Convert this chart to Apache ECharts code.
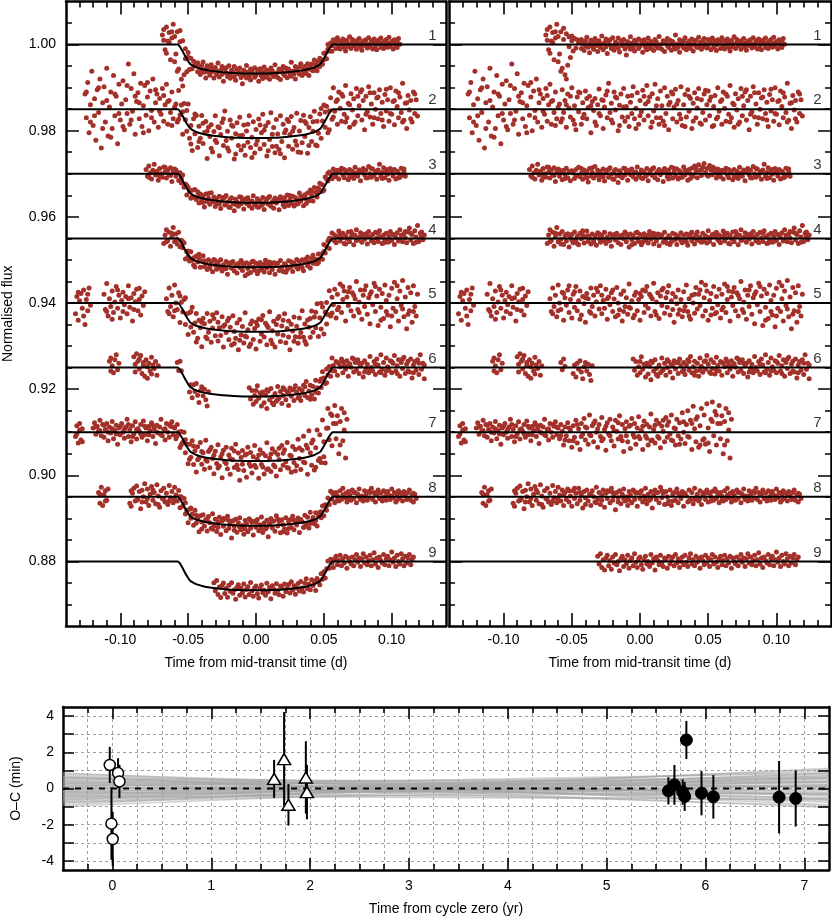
<!DOCTYPE html>
<html><head><meta charset="utf-8">
<script src="https://cdn.jsdelivr.net/npm/echarts@6/dist/echarts.min.js"></script>
<style>html,body{margin:0;padding:0;background:#fff}#c{width:832px;height:919px}</style>
</head><body><div id="c"></div>
<script>
// ---------------- DATA ----------------
const curveLabels = ['1','2','3','4','5','6','7','8','9'];
const baselines = [1.000,0.985,0.970,0.955,0.940,0.925,0.910,0.895,0.880];
// transit model shape: time (d) and depth (units of 1e-4 flux)
const modelT = [-0.14,-0.0575,-0.0565,-0.0545,-0.0525,-0.0505,-0.0485,-0.046,-0.043,-0.039,-0.034,-0.028,-0.021,-0.013,-0.005,0.004,0.012,0.020,0.027,0.033,0.038,0.042,0.045,0.0475,0.0495,0.0515,0.0535,0.0555,0.0565,0.14];
const modelDepth = [0,0,3,13,25,36,45,50,54,57.5,60.5,63,65,66.5,67,67,66.5,65,63,60.5,57.5,54,50,45,35,24,12,3,0,0];
// light-curve residuals, "time(1e-3 d):residual(1e-4 flux)"
const lc1 = "-69:22 -68:35 -67:-12 -66:41 -65:8 -64:28 -63:-35 -62:15 -61:47 -60:19 -59:-22 -58:30 -57:-55 -56:12 -55:-70 -54:25 -53:-48 -52:18 -51:-30 -50:9 -49:-15 -48:14 -47:-8 -46:11 -45:4 -68:10 -66:-20 -64:5 -62:30 -60:-40 -58:-62 -56:38 -54:-80 -52:-5 -50:20 " +
"-44:6 -43:-9 -43:12 -42:3 -41:-14 -40:8 -40:-3 -39:17 -38:-6 -37:2 -37:-19 -36:10 -35:-4 -34:-11 -34:7 -33:14 -32:-2 -31:-16 -31:5 -30:9 -29:-7 -28:1 -28:20 -27:-12 -26:4 -25:-5 -25:13 -24:-21 -23:8 -22:-1 -22:11 -21:-9 -20:16 -19:-3 -19:-13 -18:6 -17:2 -16:-8 -16:15 -15:-17 -14:9 -13:-2 -13:4 -12:12 -11:-10 -10:0 -10:-24 -9:7 -8:-5 -7:18 -7:-11 -6:3 -5:-7 -4:10 -4:-15 -3:5 -2:-1 -1:13 -1:-9 0:-4 1:8 2:-18 2:2 3:11 4:-6 5:4 5:-12 6:15 7:-3 8:7 8:-9 9:1 10:-14 11:12 11:-2 12:6 13:-8 14:19 14:-5 15:0 16:-11 17:9 17:3 18:-16 19:5 20:-2 20:14 21:-7 22:10 23:-13 23:2 24:7 25:-4 26:22 26:-10 27:1 28:-6 29:11 29:-18 30:4 31:-1 32:9 32:-8 33:16 34:-12 35:3 35:-3 36:8 37:-9 38:13 38:0 39:-15 40:6 41:-4 41:10 42:-7 43:17 44:-2 44:5 45:-11 46:9 47:-5 47:14 48:2 49:-8 50:12 50:-3 51:7 52:-12 53:4 53:15 54:-6 55:9 56:-1 56:-14 57:11 58:3 59:-9 59:6 60:16 61:-4 62:8 62:-10 63:1 64:13 65:-7 65:5 66:-15 67:10 68:2 68:-5 69:18 70:-9 71:4 71:12 72:-3 73:7 74:-11 74:9 75:0 76:14 77:-6 77:3 78:-13 79:8 80:5 80:-2 81:11 82:-8 83:16 83:1 84:-5 85:9 86:-10 86:4 87:13 88:-3 89:6 89:-12 90:10 91:2 92:-7 92:15 93:4 94:-9 95:8 95:-1 96:12 97:-6 98:3 98:17 99:-4 100:7 101:-10 101:5 102:11 103:-2 104:8 104:-7 105:14 106:1";
const lc2 = "-126:35 -125:-20 -124:62 -123:-55 -122:10 -121:88 -120:-38 -119:24 -118:-72 -117:45 -116:-8 -115:70 -114:-90 -113:15 -112:52 -111:-30 -110:95 -109:-62 -108:5 -107:40 -106:-45 -105:78 -104:-15 -103:30 -102:-80 -101:58 -100:-25 -99:12 -98:66 -97:-48 -96:22 -95:-10 -94:105 -93:-35 -92:48 -91:-5 -90:82 -89:-58 -88:18 -87:38 -86:-22 -85:60 -84:-40 -83:8 -82:55 -81:-14 -80:28 -79:-50 -78:42 -77:-3 -76:70 -75:-30 -74:15 -73:35 -72:-42 -71:25 -70:-12 -69:48 -68:-28 -67:10 -66:58 -65:-35 -64:20 -63:-8 -62:40 -61:-22 -60:5 " +
"-125:40 -122:-30 -119:-15 -116:50 -113:-45 -110:20 -107:-65 -104:35 -101:-10 -98:-40 -95:55 -92:-25 -89:30 -86:15 -83:-55 -80:62 -77:-20 -74:45 -71:-5 -68:32 -65:18 -62:-38 " +
"-59:12 -58:-30 -57:45 -56:-8 -55:20 -54:-42 -53:35 -52:3 -51:-18 -50:50 -49:-25 -48:8 -47:-48 -46:28 -45:-6 -44:38 -43:-35 -42:15 -41:-12 -40:42 -39:-22 -38:4 -37:30 -36:-55 -35:18 -34:-3 -33:25 -32:-38 -31:10 -30:47 -29:-15 -28:22 -27:-45 -26:5 -25:33 -24:-20 -23:60 -22:-8 -21:14 -20:-32 -19:40 -18:-2 -17:26 -16:-50 -15:9 -14:35 -13:-18 -12:48 -11:-28 -10:6 -9:30 -8:-40 -7:16 -6:-10 -5:52 -4:-22 -3:2 -2:38 -1:-35 0:20 1:-6 2:44 3:-25 4:12 5:55 6:-15 7:28 8:-42 9:36 10:-4 11:58 12:-20 13:24 14:-35 15:42 16:8 17:-28 18:50 19:-10 20:30 21:-48 22:16 23:40 24:-22 25:5 26:46 27:-30 28:20 29:-12 30:52 31:-38 32:10 33:34 34:-18 35:45 36:-5 37:25 38:-45 39:14 40:38 41:-20 42:3 43:48 44:-32 45:22 46:-8 47:35 48:-25 49:10 50:42 51:-15 52:28 53:-40 54:6 55:32 56:-22 57:50 58:-5 59:18 60:-35 61:40 62:2 63:-28 64:30 65:-12 66:55 67:-20 68:14 69:-42 70:36 71:-2 72:24 73:-30 74:48 75:-15 76:8 77:40 78:-25 79:20 80:-48 81:30 82:-6 83:52 84:-18 85:12 86:-35 87:38 88:0 89:26 90:-22 91:45 92:-10 93:16 94:-40 95:34 96:-4 97:22 98:-28 99:50 100:-12 101:18 102:-36 103:42 104:6 105:-20 106:28 107:-8 108:60 109:-26 110:14 111:-45 112:32 113:-2 114:20 115:-30 116:40 117:-10 118:22 119:-16 " +
"-57:-22 -54:10 -51:30 -48:-35 -45:40 -42:-20 -39:25 -36:8 -33:-30 -30:-10 -27:20 -24:42 -21:-25 -18:28 -15:-38 -12:5 -9:-18 -6:32 -3:-45 0:-15 3:30 6:18 9:-30 12:8 15:-20 18:-38 21:10 24:35 27:12 30:-22 33:-40 36:30 39:-28 42:25 45:-35 48:44 51:20 54:-38 57:-18 60:22 63:35 66:-30 69:10 72:-35 75:30 78:45 81:-12 84:38 87:-20 90:28 93:-25 96:46 99:-10 102:20 105:38 108:-30 111:15 114:-22 117:35";
const lc3 = "-81:10 -80:-5 -79:18 -78:2 -77:-12 -76:8 -75:22 -74:-3 -73:6 -72:-15 -71:12 -70:0 -69:-8 -68:16 -67:4 -66:-10 -65:9 -64:-2 -63:14 -62:-18 -61:5 -60:11 -59:-6 -58:3 -57:-14 -56:8 -55:-1 -54:13 -53:-9 -52:4 -51:-16 -50:7 -49:2 -48:-11 -47:10 -46:-4 -45:15 -44:-7 -43:1 -42:-13 -41:9 -40:-3 -39:6 -38:-19 -37:12 -36:-5 -35:3 -34:-10 -33:17 -32:-2 -31:8 -30:-14 -29:5 -28:-6 -27:11 -26:-17 -25:2 -24:9 -23:-8 -22:14 -21:-1 -20:-12 -19:6 -18:10 -17:-4 -16:-20 -15:7 -14:1 -13:-9 -12:13 -11:-3 -10:5 -9:-15 -8:8 -7:-2 -6:11 -5:-7 -4:3 -3:-13 -2:16 -1:-5 0:0 1:9 2:-11 3:4 4:-6 5:12 6:-16 7:2 8:8 9:-4 10:14 11:-9 12:1 13:-14 14:10 15:-2 16:6 17:-18 18:12 19:3 20:-7 21:9 22:-1 23:15 24:-10 25:4 26:-5 27:11 28:-12 29:7 30:2 31:-8 32:16 33:-3 34:6 35:-15 36:10 37:0 38:13 39:-6 40:18 41:4 42:-9 43:21 44:8 45:-4 46:15 47:24 48:3 49:12 50:-6 51:19 52:9 53:-2 54:14 55:6 56:-10 57:11 58:2 59:-7 60:8 61:-12 62:5 63:13 64:-3 65:-9 66:7 67:1 68:-14 69:10 70:-4 71:6 72:-11 73:15 74:2 75:-6 76:9 77:-16 78:4 79:12 80:-2 81:8 82:-10 83:17 84:0 85:-8 86:11 87:-4 88:5 89:-13 90:9 91:22 92:-6 93:3 94:14 95:-9 96:7 97:-1 98:-15 99:12 100:4 101:-5 102:10 103:-12 104:6 105:1 106:-8 107:13 108:-3 109:5 110:-6 " +
"-79:-8 -75:4 -71:-6 -67:15 -63:-4 -59:9 -55:-11 -51:6 -47:-5 -43:12 -39:-9 -35:14 -31:-4 -27:-7 -23:10 -19:-13 -15:-5 -11:12 -7:9 -3:4 1:-10 5:-3 9:11 13:5 17:3 21:-12 25:13 29:-9 33:8 37:-11 41:14 45:9 49:-3 53:16 57:-5 61:7 65:10 69:-8 73:-2 77:6 81:-9 85:12 89:4 93:-11 97:10 101:8 105:-9 109:11";
const lc4 = "-68:-12 -67:8 -66:20 -65:-5 -64:14 -63:-18 -62:3 -61:25 -60:-8 -59:10 -58:-2 -57:16 -56:-14 -55:6 -54:-6 -53:11 -52:-20 -51:2 -50:9 -49:-10 -48:15 -47:-3 -46:5 -45:-15 -44:12 -43:-1 -42:8 -41:-11 -40:4 -39:17 -38:-7 -37:1 -36:-13 -35:10 -34:-4 -33:6 -32:-16 -31:13 -30:0 -29:-9 -28:7 -27:-2 -26:14 -25:-12 -24:3 -23:-6 -22:11 -21:-18 -20:5 -19:9 -18:-4 -17:12 -16:-10 -15:2 -14:-14 -13:8 -12:-1 -11:15 -10:-8 -9:4 -8:-20 -7:10 -6:-3 -5:6 -4:-12 -3:13 -2:0 -1:-7 0:9 1:-15 2:4 3:11 4:-5 5:1 6:-11 7:16 8:-2 9:7 10:-13 11:5 12:-6 13:10 14:-17 15:3 16:8 17:-9 18:14 19:-1 20:-12 21:6 22:2 23:-8 24:12 25:-4 26:9 27:-14 28:5 29:0 30:13 31:-10 32:7 33:-3 34:10 35:-16 36:4 37:11 38:-6 39:1 40:-13 41:8 42:15 43:-5 44:3 45:-9 46:12 47:-2 48:6 49:-11 50:18 51:-7 52:2 53:9 54:-14 55:5 56:14 57:-3 58:8 59:-10 60:4 61:17 62:-6 63:1 64:12 65:-12 66:6 67:-1 68:15 69:-8 70:3 71:10 72:-15 73:7 74:20 75:-4 76:2 77:13 78:-9 79:6 80:-2 81:11 82:-13 83:16 84:4 85:-6 86:9 87:-10 88:14 89:1 90:-7 91:18 92:3 93:-12 94:8 95:-3 96:12 97:-9 98:5 99:16 100:-5 101:9 102:-14 103:2 104:13 105:-6 106:20 107:7 108:-8 109:11 110:1 111:-10 112:15 113:24 114:-4 115:9 116:-12 117:18 118:3 119:30 120:-7 121:12 122:5 123:-3 124:8 " +
"-66:-8 -62:12 -58:-13 -54:9 -50:-4 -46:-12 -42:18 -38:6 -34:-9 -30:11 -26:-6 -22:-5 -18:8 -14:6 -10:10 -6:-15 -2:14 2:-9 6:7 10:12 14:9 18:-6 22:-14 26:-2 30:-5 34:-8 38:14 42:-4 46:-8 50:2 54:10 58:-6 62:9 66:-13 70:16 74:-5 78:10 82:5 86:-4 90:12 94:-11 98:-7 102:8 106:-3 110:16 114:12 118:-9 122:15";
const lc5 = "-133:-25 -132:15 -131:-40 -130:5 -129:22 -128:-12 -127:30 -126:-50 -125:8 -124:-18 -123:35 -122:-5 " +
"-112:20 -111:-15 -110:45 -109:-30 -108:10 -107:-8 -106:28 -105:-22 -104:2 -103:38 -102:-12 -101:18 -100:-35 -99:6 -98:25 -97:-4 -96:15 -95:-25 -94:40 -93:-10 -92:12 -91:-42 -90:22 -89:3 -88:32 -87:-18 -86:8 -85:-28 -84:16 -83:-6 -82:26 " +
"-66:10 -65:-20 -64:35 -63:-8 -62:18 -61:-32 -60:42 -59:0 -58:-15 -57:25 -56:-40 -55:12 -54:-5 -53:30 -52:-22 -51:8 -50:-35 -49:20 -48:-10 -47:38 -46:-18 -45:5 -44:28 -43:-28 -42:15 -41:-2 -40:-45 -39:22 -38:10 -37:-20 -36:35 -35:-8 -34:18 -33:-30 -32:3 -31:26 -30:-14 -29:40 -28:-25 -27:6 -26:-12 -25:32 -24:-38 -23:14 -22:-4 -21:24 -20:-20 -19:9 -18:-32 -17:36 -16:0 -15:-16 -14:20 -13:-42 -12:28 -11:-8 -10:12 -9:-26 -8:44 -7:-12 -6:5 -5:-34 -4:18 -3:25 -2:-18 -1:8 0:-40 1:15 2:30 3:-22 4:-5 5:38 6:-12 7:20 8:-30 9:10 10:46 11:-20 12:2 13:24 14:-36 15:16 16:-6 17:34 18:-24 19:12 20:-10 21:40 22:-28 23:5 24:22 25:-45 26:14 27:-2 28:30 29:-16 30:8 31:-32 32:26 33:-8 34:42 35:-20 36:10 37:-38 38:18 39:0 40:-24 41:36 42:-14 43:20 44:-6 45:48 46:-30 47:12 48:-18 49:28 50:-40 51:6 52:22 53:-12 54:38 55:-25 56:15 57:-4 58:32 59:-35 60:20 61:-10 62:44 63:-22 64:8 65:28 66:-42 67:14 68:-6 69:36 70:-18 71:24 72:-30 73:10 74:50 75:-15 76:2 77:30 78:-38 79:18 80:-8 81:40 82:-26 83:12 84:-48 85:26 86:-4 87:46 88:-20 89:16 90:-52 91:32 92:-10 93:22 94:-36 95:42 96:6 97:-28 98:18 99:-55 100:34 101:-12 102:48 103:-20 104:10 105:-42 106:28 107:-6 108:52 109:-32 110:14 111:-60 112:36 113:-18 114:24 115:-45 116:40 117:-8 118:-30 119:20 " +
"-131:25 -127:-30 -124:20 -110:-20 -106:-38 -102:30 -98:-20 -94:10 -90:-15 -86:34 -64:-25 -60:-18 -56:22 -52:40 -48:26 -44:-38 -40:12 -36:-24 -32:34 -28:18 -24:10 -20:30 -16:-28 -12:-20 -8:-10 -4:-28 0:22 4:28 8:15 12:-28 16:30 20:25 24:-15 28:-26 32:-18 36:-30 40:20 44:30 48:42 52:-28 56:-22 60:-16 64:38 68:26 72:18 76:-22 80:30 84:20 88:38 92:-40 96:-20 100:-30 104:40 108:-14 112:-26 116:-20";
const lc6 = "-108:15 -107:-8 -107:22 -106:4 -105:-12 -104:18 -103:30 -102:-5 -101:10 " +
"-90:25 -89:8 -89:-10 -88:32 -87:15 -86:-3 -86:20 -85:28 -84:-14 -83:12 -83:5 -82:-20 -81:18 -80:2 -80:-25 -79:10 -78:-8 -77:24 -77:-15 -76:6 -75:-2 -74:14 -73:-18 -72:4 " +
"-58:12 -57:-5 -56:20 -55:3 -49:-14 -48:6 -47:-22 -46:10 -45:-4 -44:16 -43:-10 -42:-26 -41:2 -40:12 -39:-8 -38:8 -37:-16 -36:-30 -35:4 " +
"-5:20 -4:-6 -3:14 -2:-18 -1:2 0:-12 1:25 2:-4 3:8 4:-22 5:10 6:-15 7:3 8:-28 9:12 10:-8 11:18 12:-2 13:-20 14:6 15:-12 16:22 17:-5 18:10 19:-18 20:0 21:14 22:-10 23:8 24:-24 25:16 26:-3 27:11 28:-14 29:20 30:4 31:-9 32:12 33:-16 34:6 35:18 36:-6 37:26 38:-12 39:2 40:15 41:-8 42:10 43:-20 44:22 45:3 46:-11 47:14 48:-4 49:28 50:8 51:-10 52:18 53:-2 54:12 55:-15 56:24 57:5 58:-8 59:14 60:-18 61:10 62:2 63:20 64:-12 65:6 66:-4 67:16 68:-20 69:9 70:1 71:22 72:-10 73:12 74:-6 75:18 76:-14 77:4 78:10 79:-22 80:16 81:-2 82:8 83:-12 84:26 85:0 86:-8 87:14 88:-16 89:20 90:6 91:-10 92:30 93:-4 94:12 95:-18 96:22 97:2 98:-6 99:16 100:-12 101:10 102:28 103:-8 104:4 105:18 106:-20 107:12 108:-2 109:24 110:-14 111:8 112:15 113:-10 114:20 115:-24 116:6 117:14 118:-6 119:18 120:-16 121:30 122:-4 123:10 124:-26 " +
"0:14 4:6 8:15 12:-16 16:-8 20:18 24:6 28:12 32:-6 36:14 40:-18 44:-6 48:16 52:-14 56:-6 60:12 64:14 68:4 72:20 76:10 80:-10 84:-6 88:8 92:-12 96:-8 100:14 104:-14 108:20 112:-8 116:-12 120:10 124:6";
const lc7 = "-133:-10 -132:15 -131:-25 -130:5 -129:-18 -128:8 " +
"-120:10 -119:22 -118:-5 -117:14 -116:2 -115:28 -114:-8 -113:18 -112:-12 -111:6 -110:20 -109:-20 -108:12 -107:-2 -106:25 -105:-15 -104:4 -103:16 -102:-28 -101:10 -100:-6 -99:20 -98:0 -97:-14 -96:12 -95:30 -94:-10 -93:6 -92:-22 -91:15 -90:-4 -89:24 -88:-16 -87:8 -86:2 -85:18 -84:-12 -83:26 -82:-6 -81:10 -80:-20 -79:14 -78:4 -77:22 -76:-10 -75:8 -74:-26 -73:16 -72:-2 -71:12 -70:30 -69:-8 -68:6 -67:-18 -66:20 -65:0 -64:-12 -63:14 -62:24 -61:-6 -60:10 -59:-15 -58:18 -57:2 -56:-30 -55:12 -54:-8 -53:22 -52:-20 -51:5 -50:-35 -49:15 -48:-12 -47:28 -46:-25 -45:8 -44:-40 -43:20 -42:-5 -41:32 -40:-18 -39:10 -38:-28 -37:40 -36:-8 -35:15 -34:-22 -33:26 -32:0 -31:-35 -30:18 -29:-10 -28:34 -27:-15 -26:6 -25:-42 -24:22 -23:-4 -22:30 -21:-20 -20:12 -19:-32 -18:28 -17:2 -16:-16 -15:38 -14:-10 -13:18 -12:-45 -11:8 -10:24 -9:-22 -8:14 -7:-38 -6:32 -5:-6 -4:20 -3:-28 -2:10 -1:36 0:-15 1:4 2:-40 3:26 4:-8 5:18 6:-30 7:12 8:42 9:-18 10:6 11:-25 12:28 13:-10 14:20 15:-36 16:14 17:2 18:-22 19:34 20:-12 21:24 22:-4 23:40 24:-20 25:10 26:-30 27:30 28:-8 29:22 30:-16 31:45 32:0 33:-26 34:18 35:50 36:-12 37:28 38:-40 39:60 40:8 41:-22 42:36 43:-35 44:15 45:55 46:-18 47:40 48:-28 49:66 50:10 51:-45 52:30 53:70 54:-8 55:48 56:-30 57:20 58:62 59:-15 60:38 61:-50 62:25 63:55 64:-20 65:45 66:-60 67:30 " +
"-132:-4 -130:20 -128:-22 -118:12 -115:4 -112:16 -109:0 -106:8 -103:-4 -100:14 -97:6 -94:18 -91:-10 -88:6 -85:-4 -82:14 -79:-6 -76:16 -73:0 -70:-6 -67:8 -64:18 -61:12 -58:-8 -55:-18 -52:10 -49:-20 -46:18 -43:-10 -40:12 -37:-6 -34:20 -31:8 -28:-20 -25:14 -22:-8 -19:4 -16:22 -13:-20 -10:-8 -7:16 -4:-12 -1:-10 2:14 5:-14 8:-20 11:16 14:-14 17:28 20:16 23:-18 26:8 29:-28 32:24 35:-10 38:20 41:30 44:-30 47:-15 50:-25 53:25 56:40 59:20 62:-30 65:5";
const lc8 = "-116:10 -115:-15 -114:22 -113:-20 -112:5 -111:14 -110:-8 -109:18 " +
"-93:-15 -92:-22 -91:8 -90:20 -89:-10 -88:25 -87:-5 -86:12 -85:-28 -84:15 -83:0 -82:30 -81:-12 -80:18 -79:-20 -78:6 -77:24 -76:-8 -75:10 -74:-16 -73:28 -72:2 -71:-24 -70:14 -69:-4 -68:20 -67:-12 -66:8 -65:-18 -64:26 -63:-2 -62:12 -61:-14 -60:22 -59:4 -58:-10 -57:16 -56:-20 -55:10 -54:-6 -53:18 -52:-12 -51:2 -50:-22 -49:14 -48:-4 -47:8 -46:-16 -45:20 -44:-8 -43:4 -42:-26 -41:12 -40:-2 -39:16 -38:-10 -37:6 -36:-20 -35:14 -34:0 -33:-12 -32:22 -31:-6 -30:10 -29:-18 -28:4 -27:16 -26:-24 -25:8 -24:-4 -23:12 -22:-14 -21:20 -20:-8 -19:2 -18:-30 -17:10 -16:-2 -15:14 -14:-16 -13:6 -12:18 -11:-10 -10:0 -9:-20 -8:12 -7:4 -6:-14 -5:16 -4:-6 -3:8 -2:-22 -1:10 0:-4 1:14 2:-12 3:2 4:20 5:-16 6:6 7:-8 8:12 9:-26 10:4 11:16 12:-6 13:10 14:-14 15:22 16:-2 17:8 18:-18 19:12 20:0 21:-10 22:16 23:-20 24:6 25:10 26:-8 27:18 28:-14 29:4 30:-4 31:12 32:-22 33:8 34:2 35:-12 36:16 37:-6 38:10 39:-16 40:20 41:-2 42:6 43:-10 44:14 45:-18 46:4 47:10 48:-6 49:16 50:-12 51:8 52:0 53:12 54:-8 55:18 56:-4 57:6 58:-14 59:10 60:2 61:-10 62:14 63:-6 64:20 65:-2 66:8 67:-12 68:12 69:4 70:-8 71:16 72:-4 73:10 74:-14 75:6 76:18 77:-6 78:2 79:-10 80:14 81:4 82:-8 83:12 84:-2 85:20 86:-6 87:10 88:-12 89:6 90:16 91:-4 92:8 93:-10 94:14 95:0 96:-8 97:12 98:4 99:-6 100:18 101:-2 102:10 103:-12 104:6 105:14 106:-4 107:8 108:-10 109:12 110:2 111:-6 112:10 113:16 114:-8 115:4 116:-12 117:6 118:-4 " +
"-115:6 -111:-10 -92:14 -88:-8 -84:-12 -80:-4 -76:16 -72:-18 -68:-6 -64:-10 -60:-6 -56:6 -52:14 -48:20 -44:10 -40:-18 -36:6 -32:-14 -28:-8 -24:14 -20:10 -16:-12 -12:-4 -8:-8 -4:12 0:8 4:-6 8:-4 12:10 16:14 20:-16 24:-10 28:8 32:6 36:-10 40:-6 44:-4 48:8 52:-10 56:12 60:-8 64:4 68:-6 72:10 76:0 80:-6 84:10 88:4 92:-4 96:10 100:2 104:-8 108:6 112:-4 116:8";
const lc9 = "-31:12 -30:-6 -29:18 -28:-14 -27:4 -26:-20 -25:8 -24:14 -23:-10 -22:2 -21:-18 -20:10 -19:-4 -18:16 -17:-8 -16:0 -15:-22 -14:6 -13:12 -12:-12 -11:4 -10:-6 -9:14 -8:-16 -7:2 -6:8 -5:-10 -4:18 -3:-2 -2:-14 -1:6 0:10 1:-8 2:-18 3:4 4:12 5:-6 6:0 7:-12 8:16 9:-4 10:6 11:-20 12:10 13:2 14:-8 15:14 16:-2 17:-12 18:8 19:4 20:-16 21:12 22:-6 23:2 24:10 25:-10 26:16 27:-4 28:6 29:-14 30:0 31:10 32:-8 33:14 34:-2 35:-12 36:8 37:18 38:-6 39:4 40:-10 41:12 42:-2 43:6 44:-16 45:10 46:2 47:-8 48:14 49:-4 50:8 51:-12 52:4 53:16 54:-6 55:10 56:-2 57:-14 58:6 59:12 60:-8 61:2 62:14 63:-10 64:6 65:-4 66:12 67:-16 68:8 69:0 70:-6 71:10 72:-10 73:4 74:16 75:-2 76:8 77:-12 78:6 79:18 80:-4 81:10 82:-8 83:2 84:14 85:-10 86:4 87:20 88:-6 89:8 90:-14 91:10 92:2 93:-4 94:16 95:-8 96:6 97:12 98:-10 99:4 100:22 101:-2 102:8 103:-12 104:14 105:0 106:-6 107:18 108:6 109:-10 110:12 111:-4 112:8 113:16 114:-8 115:4 116:10";
const lightCurves = [lc1,lc2,lc3,lc4,lc5,lc6,lc7,lc8,lc9];

// axis ranges & ticks (top panels)
const timeRange = [-0.14, 0.14];
const fluxRange = [0.865, 1.010];
const timeMajorTicks = [-0.10,-0.05,0,0.05,0.10];
const timeMinorTicks = [-0.13,-0.12,-0.11,-0.09,-0.08,-0.07,-0.06,-0.04,-0.03,-0.02,-0.01,0.01,0.02,0.03,0.04,0.06,0.07,0.08,0.09,0.11,0.12,0.13];
const fluxMajorTicks = [0.88,0.90,0.92,0.94,0.96,0.98,1.00];
const fluxMinorTicks = [0.87,0.875,0.885,0.89,0.895,0.905,0.91,0.915,0.925,0.93,0.935,0.945,0.95,0.955,0.965,0.97,0.975,0.985,0.99,0.995,1.005];

// O-C panel
const yearRange = [-0.5, 7.25];
const yearTicks = [0,1,2,3,4,5,6,7];
const yearMinorTicks = [-0.25,0.25,0.5,0.75,1.25,1.5,1.75,2.25,2.5,2.75,3.25,3.5,3.75,4.25,4.5,4.75,5.25,5.5,5.75,6.25,6.5,6.75];
const ocRange = [-4.5, 4.5];
const ocTicks = [-4,-3,-2,-1,0,1,2,3,4];
const ocLabelTicks = [-4,-2,0,2,4];
const openX = [-0.027,-0.010,0.003,0.057,0.071];
const openY = [1.30,-1.94,-2.79,0.85,0.39];
const openErr = [1.0,2.0,1.5,0.82,0.92];
const triX = [1.636,1.737,1.781,1.957,1.968];
const triY = [0.53,1.62,-0.90,0.61,-0.20];
const triErr = [1.05,2.6,1.15,2.0,1.5];
const fillX = [5.625,5.686,5.770,5.790,5.807,5.960,6.080,6.745,6.913];
const fillY = [-0.13,0.20,-0.20,-0.44,2.68,-0.26,-0.46,-0.48,-0.55];
const fillErr = [0.75,1.1,0.7,0.8,1.05,1.22,1.2,2.0,1.55];
// ephemeris posterior samples: O-C value at left edge and right edge
const ephemSamples = [[0.85,-0.90],[0.72,-0.55],[0.60,-0.75],[0.55,-0.30],[0.45,-0.60],[0.40,0.10],[0.35,-0.35],[0.30,-0.95],[0.25,0.30],[0.20,-0.20],[0.15,0.55],[0.10,-0.50],[0.05,0.20],[0.00,-0.10],[-0.05,0.45],[-0.10,-0.30],[-0.15,0.10],[-0.20,0.70],[-0.25,-0.05],[-0.30,0.35],[-0.35,0.95],[-0.40,0.20],[-0.45,0.60],[-0.50,-0.25],[-0.55,0.80],[-0.60,0.40],[-0.65,1.05],[-0.70,0.55],[-0.80,0.85],[-0.90,1.12],[-0.98,0.70],[0.65,-1.05],[0.80,-0.40],[0.50,0.35],[-0.40,-0.60],[0.10,0.85],[0.30,0.60],[-0.20,-0.65],[0.62,0.05],[-0.75,0.15]];

// ---------------- BUILD ----------------
const FONT = "'Liberation Sans', Arial, sans-serif";
const PT = '#a3312a';
const black = '#000';
const parseLC = s => s.trim().split(/\s+/).map(p => p.split(':').map(Number));
function modelAt(t){
  if (t <= modelT[0]) return modelDepth[0];
  for (let i = 1; i < modelT.length; i++) {
    if (t <= modelT[i]) {
      const f = (t - modelT[i-1]) / (modelT[i] - modelT[i-1]);
      return modelDepth[i-1] + f * (modelDepth[i] - modelDepth[i-1]);
    }
  }
  return modelDepth[modelDepth.length-1];
}
const leftPts = [], rightPts = [];
lightCurves.forEach((s, k) => {
  parseLC(s).forEach(([tm, r]) => {
    const t = tm / 1000;
    leftPts.push([t, baselines[k] + (r - modelAt(t)) * 1e-4]);
    rightPts.push([t, baselines[k] + r * 1e-4]);
  });
});

const W = 832, H = 919;
const topGridPx = {left:64, right:386, top:1.5, bottom:293};
const topGridPx2 = {left:449, right:1, top:1.5, bottom:293};
const ocGridPx = {left:63, right:3, top:707, bottom:49};
const lineAx = {show:true, onZero:false, lineStyle:{color:black, width:2.5}};
const lblSt = (vals, fmt, margin) => ({show:true, customValues:vals, formatter:fmt, color:black, fontSize:14, fontFamily:FONT, margin:margin});
const nameSt = {color:black, fontSize:14, fontFamily:FONT};
function ax(o){
  return Object.assign({type:'value', axisLine:lineAx, axisTick:{show:false}, axisLabel:{show:false}, splitLine:{show:false}}, o);
}
const grids = [topGridPx, topGridPx2, ocGridPx];
const xAxes = [], yAxes = [];
[0,1].forEach(g => {
  const xr = {min:timeRange[0], max:timeRange[1], gridIndex:g};
  const yr = {min:fluxRange[0], max:fluxRange[1], gridIndex:g};
  xAxes.push(ax(Object.assign({position:'bottom', axisLabel:lblSt(timeMajorTicks, v => v.toFixed(2), 7),
    name:'Time from mid-transit time (d)', nameLocation:'middle', nameGap:30, nameTextStyle:nameSt}, xr)));
  xAxes.push(ax(Object.assign({position:'top'}, xr)));
  const yl = {position:'left'};
  if (g === 0) {
    yl.axisLabel = lblSt(fluxMajorTicks, v => v.toFixed(2), 10);
    yl.name = 'Normalised flux'; yl.nameLocation = 'middle'; yl.nameGap = 51; yl.nameTextStyle = nameSt;
  }
  yAxes.push(ax(Object.assign(yl, yr)));
  yAxes.push(ax(Object.assign({position:'right'}, yr)));
});
const gridDash = {show:true, lineStyle:{color:'#a0a0a0', width:1, type:[3,3]}};
const xo = {min:yearRange[0], max:yearRange[1], gridIndex:2};
const yo = {min:ocRange[0], max:ocRange[1], gridIndex:2};
xAxes.push(ax(Object.assign({position:'bottom', interval:0.25, splitLine:gridDash,
  axisLabel:lblSt(yearTicks, v => String(v), 9),
  name:'Time from cycle zero (yr)', nameLocation:'middle', nameGap:32, nameTextStyle:nameSt}, xo)));   // x 4
xAxes.push(ax(Object.assign({position:'top'}, xo)));  // x 5
yAxes.push(ax(Object.assign({position:'left', axisTick:{show:false, customValues:ocTicks}, splitLine:gridDash,
  axisLabel:lblSt(ocLabelTicks, v => String(v), 9),
  name:'O\u2013C (min)', nameLocation:'middle', nameGap:40, nameTextStyle:nameSt}, yo)));   // y 4
yAxes.push(ax(Object.assign({position:'right'}, yo)));  // y 5

// frame tick marks as 'lines' series segments; pixel lengths converted to data units from the grid size
function frameTickLines(g, xr, yr, xMaj, xMin, yMaj, yMin, lx, sx, ly, sy){
  const wpx = W - g.left - g.right, hpx = H - g.top - g.bottom;
  const dxpp = (xr[1] - xr[0]) / wpx, dypp = (yr[1] - yr[0]) / hpx;
  const out = [];
  const vt = (v, len) => {
    out.push({coords:[[v, yr[0]], [v, yr[0] + len*dypp]]});
    out.push({coords:[[v, yr[1]], [v, yr[1] - len*dypp]]});
  };
  const hz = (v, len) => {
    out.push({coords:[[xr[0], v], [xr[0] + len*dxpp, v]]});
    out.push({coords:[[xr[1], v], [xr[1] - len*dxpp, v]]});
  };
  xMaj.forEach(v => vt(v, lx)); xMin.forEach(v => vt(v, sx));
  yMaj.forEach(v => hz(v, ly)); yMin.forEach(v => hz(v, sy));
  return out;
}
function tickSeries(axisIdx, data){
  return {type:'lines', coordinateSystem:'cartesian2d', xAxisIndex:axisIdx, yAxisIndex:axisIdx, data:data,
    polyline:false, silent:true, z:6, lineStyle:{color:black, width:1.6, opacity:1, curveness:0}};
}

const series = [];
series.push({type:'scatter', xAxisIndex:0, yAxisIndex:0, data:leftPts, symbolSize:5, itemStyle:{color:PT, opacity:1}, silent:true, z:2});
series.push({type:'scatter', xAxisIndex:2, yAxisIndex:2, data:rightPts, symbolSize:5, itemStyle:{color:PT, opacity:1}, silent:true, z:2});
baselines.forEach((b, k) => {
  series.push({type:'line', xAxisIndex:0, yAxisIndex:0, data:modelT.map((t,i)=>[t, b - modelDepth[i]*1e-4]),
    showSymbol:false, smooth:0.25, lineStyle:{color:black, width:2}, silent:true, z:3});
  series.push({type:'line', xAxisIndex:2, yAxisIndex:2, data:[[timeRange[0], b],[timeRange[1], b]],
    showSymbol:false, lineStyle:{color:black, width:2}, silent:true, z:3});
});
[0,2].forEach(ai => {
  series.push({type:'scatter', xAxisIndex:ai, yAxisIndex:ai, symbolSize:1, itemStyle:{color:'rgba(0,0,0,0)'},
    data:baselines.map((b,k)=>({value:[0.13, b], name:curveLabels[k]})),
    label:{show:true, position:'top', distance:1, formatter:p=>p.name, color:black, fontSize:15, fontFamily:FONT}, silent:true, z:4});
});
series.push(tickSeries(0, frameTickLines(topGridPx, timeRange, fluxRange, timeMajorTicks, timeMinorTicks, fluxMajorTicks, fluxMinorTicks, 13, 6, 13, 6)));
series.push(tickSeries(2, frameTickLines(topGridPx2, timeRange, fluxRange, timeMajorTicks, timeMinorTicks, fluxMajorTicks, fluxMinorTicks, 13, 6, 13, 6)));
// O-C fan
ephemSamples.forEach(([L, R]) => {
  series.push({type:'line', xAxisIndex:4, yAxisIndex:4, data:[[yearRange[0], L],[yearRange[1], R]], showSymbol:false,
    lineStyle:{color:'rgba(165,165,165,0.5)', width:1.6}, silent:true, z:1});
});
series.push({type:'line', xAxisIndex:4, yAxisIndex:4, data:[[yearRange[0],0],[yearRange[1],0]], showSymbol:false,
  lineStyle:{color:black, width:2, type:[6,6]}, silent:true, z:2});
const errData = [];
[[openX,openY,openErr],[triX,triY,triErr],[fillX,fillY,fillErr]].forEach(([X,Y,E]) => X.forEach((x,i)=>errData.push([x, Y[i], E[i]])));
series.push({type:'custom', xAxisIndex:4, yAxisIndex:4, data:errData, silent:true, z:3, clip:true,
  renderItem:(params, api) => {
    const x = api.value(0), y = api.value(1), e = api.value(2);
    const p1 = api.coord([x, y - e]), p2 = api.coord([x, y + e]);
    return {type:'line', shape:{x1:p1[0], y1:p1[1], x2:p2[0], y2:p2[1]}, style:{stroke:black, lineWidth:2}};
  }});
series.push({type:'scatter', xAxisIndex:4, yAxisIndex:4, data:openX.map((x,i)=>[x, openY[i]]), symbol:'circle', symbolSize:11,
  itemStyle:{color:'#fff', borderColor:black, borderWidth:1.5, opacity:1}, silent:true, z:4});
series.push({type:'scatter', xAxisIndex:4, yAxisIndex:4, data:triX.map((x,i)=>[x, triY[i]]), symbol:'triangle', symbolSize:[13,11],
  itemStyle:{color:'#fff', borderColor:black, borderWidth:1.5, opacity:1}, silent:true, z:4});
series.push({type:'scatter', xAxisIndex:4, yAxisIndex:4, data:fillX.map((x,i)=>[x, fillY[i]]), symbol:'circle', symbolSize:12,
  itemStyle:{color:black, borderColor:black, borderWidth:1, opacity:1}, silent:true, z:4});
series.push(tickSeries(4, frameTickLines(ocGridPx, yearRange, ocRange, yearTicks, yearMinorTicks, ocTicks, [], 12, 6, 11, 6)));

const chart = echarts.init(document.getElementById('c'), null, {renderer:'canvas'});
chart.setOption({
  animation:false,
  backgroundColor:'#fff',
  textStyle:{fontFamily:FONT},
  grid:grids,
  xAxis:xAxes,
  yAxis:yAxes,
  series:series
});
</script></body></html>
